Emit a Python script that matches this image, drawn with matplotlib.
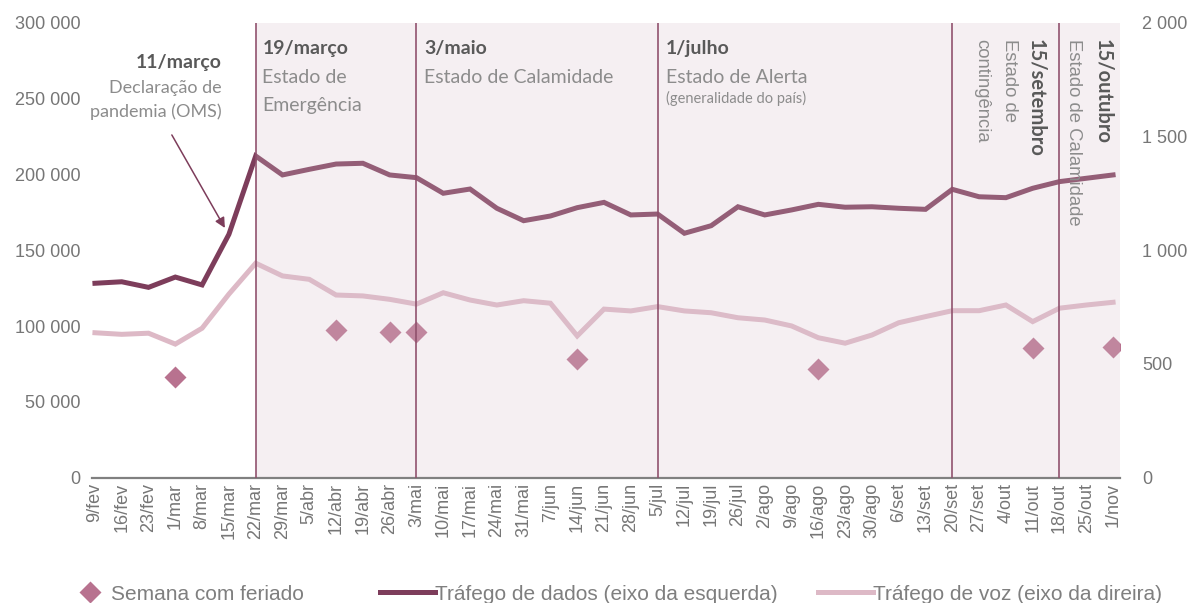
import numpy as np
import matplotlib
matplotlib.use('Agg')
import matplotlib.pyplot as plt
from matplotlib.ticker import FuncFormatter

plt.rcParams['font.family'] = ['Liberation Sans', 'DejaVu Sans']

# ------------------- Data -------------------
semanas = ['9/fev', '16/fev', '23/fev', '1/mar', '8/mar', '15/mar', '22/mar', '29/mar',
           '5/abr', '12/abr', '19/abr', '26/abr', '3/mai', '10/mai', '17/mai', '24/mai',
           '31/mai', '7/jun', '14/jun', '21/jun', '28/jun', '5/jul', '12/jul', '19/jul',
           '26/jul', '2/ago', '9/ago', '16/ago', '23/ago', '30/ago', '6/set', '13/set',
           '20/set', '27/set', '4/out', '11/out', '18/out', '25/out', '1/nov']

# data traffic (left axis)
trafego_dados = [128200, 129200, 125500, 132300, 127100, 160500, 212200, 199700,
                 203400, 206900, 207400, 199700, 197900, 187600, 190400, 177700,
                 169500, 172600, 178100, 181600, 173300, 173900, 161200, 166200,
                 178700, 173300, 176600, 180300, 178400, 178700, 177700, 177000,
                 190200, 185300, 184700, 190900, 195300, 197500, 199700]

# voice traffic (right axis)
trafego_voz = [637, 630, 635, 587, 657, 807, 943, 887, 872, 803, 799, 784, 763,
               813, 781, 759, 778, 767, 623, 741, 733, 752, 733, 725, 703, 693,
               667, 615, 591, 627, 681, 708, 734, 734, 759, 686, 745, 759, 771]

# weeks with a public holiday (marker on left axis)
feriado_semanas = ['1/mar', '12/abr', '26/abr', '3/mai', '14/jun', '16/ago', '11/out', '1/nov']
feriado_valores = [66500, 97400, 96200, 96200, 78200, 71400, 85300, 85900]

# policy milestones (vertical lines)
marcos = ['22/mar', '3/mai', '5/jul', '20/set', '18/out']

# ------------------- Colours -------------------
c_dados = '#7D3D5B'
c_voz = '#DDB9C6'
c_feriado = '#B8728F'
c_shade = '#DAC2CE'
c_vline = '#8E4F6B'
c_bold = '#595959'
c_desc = '#8C8C8C'
c_tick = '#767676'

x = np.arange(len(semanas))
pos = {s: i for i, s in enumerate(semanas)}
x_fer = [pos[s] for s in feriado_semanas]

fig = plt.figure(figsize=(11.92, 6.03), dpi=100)
ax = fig.add_axes([0.0774, 0.2081, 0.862, 0.7538])
ax2 = ax.twinx()
ax.set_zorder(ax2.get_zorder() + 1)
ax.patch.set_visible(False)

# ------------------- Series -------------------
l_voz, = ax2.plot(x, trafego_voz, color=c_voz, lw=3.6, solid_joinstyle='miter', zorder=2)
l_dados, = ax.plot(x, trafego_dados, color=c_dados, lw=3.6, solid_joinstyle='miter', zorder=1.8)
m_fer, = ax.plot(x_fer, feriado_valores, ls='none', marker='D', ms=11,
                 color=c_feriado, mec='none', zorder=1.9)

xmin, xmax = -0.1, 38.25
ax.set_xlim(xmin, xmax)
ax.set_ylim(0, 300000)
ax2.set_ylim(0, 2000)

# shaded period after state of emergency
ax.axvspan(pos[marcos[0]], xmax, color=c_shade, alpha=0.25, lw=0, zorder=2.2)
for m in marcos:
    ax.axvline(pos[m], color=c_vline, lw=1.3, alpha=0.9, zorder=2.6)

# ------------------- Axes styling -------------------
for a in (ax, ax2):
    for s in a.spines.values():
        s.set_visible(False)
ax.spines['bottom'].set_visible(True)
ax.spines['bottom'].set_color('#808080')
ax.spines['bottom'].set_linewidth(1.6)

ax.set_xticks(x)
ax.set_xticklabels(semanas, rotation=90, fontsize=13, color=c_tick)
ax.set_yticks(np.arange(0, 300001, 50000))
ax.yaxis.set_major_formatter(FuncFormatter(lambda v, p: f'{int(v):,}'.replace(',', ' ')))
ax2.set_yticks(np.arange(0, 2001, 500))
ax2.yaxis.set_major_formatter(FuncFormatter(lambda v, p: f'{int(v):,}'.replace(',', ' ')))
ax.tick_params(axis='x', length=0, pad=4)
ax.tick_params(axis='y', length=0, pad=8.5, labelsize=13, labelcolor=c_tick)
ax2.tick_params(axis='y', length=0, pad=16, labelsize=13, labelcolor=c_tick)

# ------------------- Annotations -------------------
fb = dict(family='Lato', fontweight='bold', color=c_bold, zorder=3)
fd = dict(family='Lato', color=c_desc, zorder=3)

ax.text(4.74, 273600, '11/março', ha='right', va='center', fontsize=14, **fb)
ax.text(4.74, 257100, 'Declaração de', ha='right', va='center', fontsize=13, **fd)
ax.text(4.74, 241300, 'pandemia (OMS)', ha='right', va='center', fontsize=13, **fd)
ax.annotate('', xy=(4.85, 164700), xytext=(2.87, 226100),
            arrowprops=dict(arrowstyle='-|>', color=c_dados, lw=1.1,
                            mutation_scale=15, shrinkA=0, shrinkB=0), zorder=3)

ax.text(6.25, 283400, '19/março', ha='left', va='center', fontsize=14, **fb)
ax.text(6.25, 264300, 'Estado de', ha='left', va='center', fontsize=14, **fd)
ax.text(6.25, 245800, 'Emergência', ha='left', va='center', fontsize=14, **fd)

ax.text(12.3, 283400, '3/maio', ha='left', va='center', fontsize=14, **fb)
ax.text(12.3, 264300, 'Estado de Calamidade', ha='left', va='center', fontsize=14, **fd)

ax.text(21.3, 283400, '1/julho', ha='left', va='center', fontsize=14, **fb)
ax.text(21.3, 264300, 'Estado de Alerta', ha='left', va='center', fontsize=14, **fd)
ax.text(21.3, 250200, '(generalidade do país)', ha='left', va='center', fontsize=10.5, **fd)

fr = dict(family='Liberation Sans', color=c_desc, zorder=3)
ax.text(35.12, 289400, '15/setembro', rotation=-90, ha='center', va='top', fontsize=14.5, **fb)
ax.text(34.12, 289400, 'Estado de', rotation=-90, ha='center', va='top', fontsize=13.3, **fr)
ax.text(33.11, 289400, 'contingência', rotation=-90, ha='center', va='top', fontsize=13.3, **fr)
ax.text(37.63, 289400, '15/outubro', rotation=-90, ha='center', va='top', fontsize=14.5, **fb)
ax.text(36.54, 289400, 'Estado de Calamidade', rotation=-90, ha='center', va='top', fontsize=13.3, **fr)

# ------------------- Legend (three separate entries) -------------------
leg_y = 9 / 603
entradas = [
    (m_fer, 'Semana com feriado', 69, 2.0),
    (l_dados, 'Tráfego de dados (eixo da esquerda)', 380, 2.65),
    (l_voz, 'Tráfego de voz (eixo da direira)', 818, 2.65),
]
for h, lab, px, hl in entradas:
    fig.legend([h], [lab], loc='center left', bbox_to_anchor=(px / 1192, leg_y),
               frameon=False, fontsize=15, labelcolor='#7F7F7F', handlelength=hl,
               handletextpad=0, borderpad=0, borderaxespad=0)

fig.savefig('out.png', dpi=100)
